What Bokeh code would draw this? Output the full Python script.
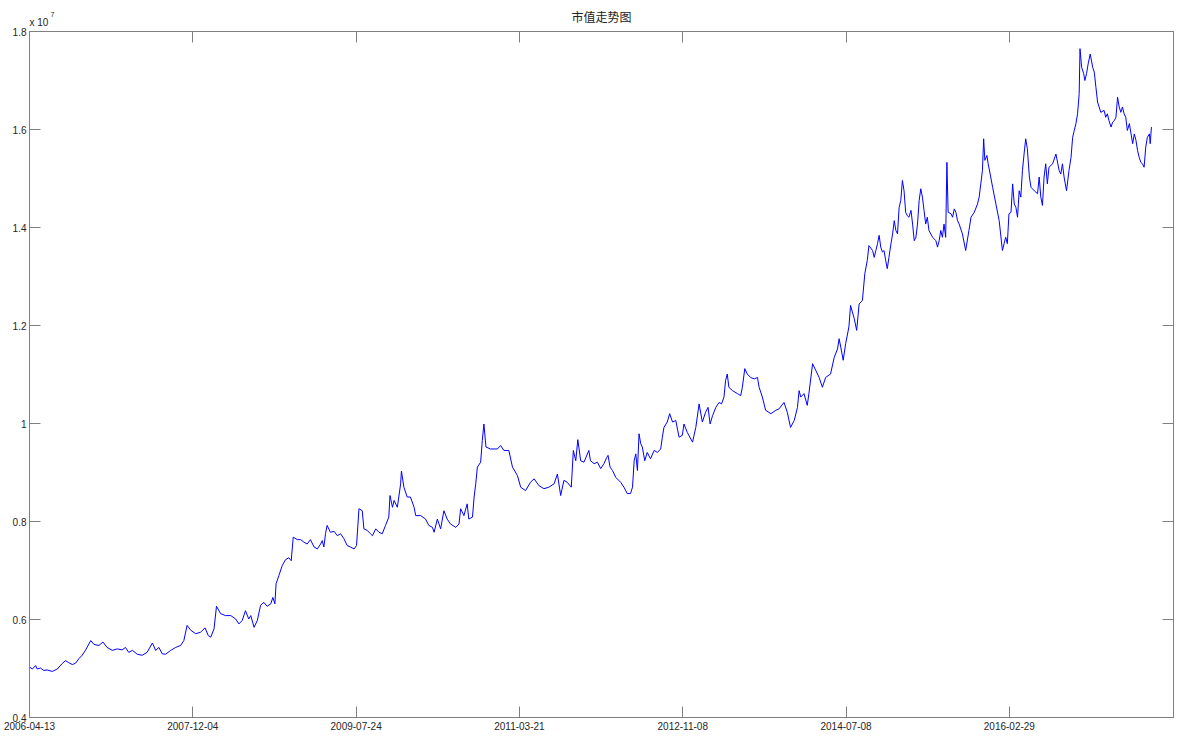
from bokeh.plotting import figure
from bokeh.models import FixedTicker, LinearAxis, Label, Range1d, ColumnDataSource
from bokeh.embed import file_html
from bokeh.resources import INLINE

# ---------------- data (trading-day index, market value in units of 1e7) ----------------
day_index_a = [0, 7, 15, 19, 27, 35, 43, 56, 68, 80,
               88, 96, 105, 113, 121, 129, 137, 150, 158, 170,
               180, 190, 203, 215, 227, 235, 243, 252, 264, 276,
               288, 301, 309, 317, 325, 333, 346, 358, 370, 378,
               386, 395, 407, 419, 430, 438, 444, 452, 458, 468,
               480, 493, 505, 513, 521, 529, 537, 542, 550, 558,
               566, 574, 582, 591, 596, 601, 604, 611, 619, 627,
               635, 641, 646, 656]
value_a = [0.503, 0.499, 0.506, 0.499, 0.501, 0.496, 0.497, 0.494, 0.499, 0.510,
           0.516, 0.512, 0.508, 0.511, 0.520, 0.527, 0.537, 0.557, 0.549, 0.547,
           0.554, 0.543, 0.537, 0.540, 0.538, 0.543, 0.533, 0.537, 0.529, 0.527,
           0.533, 0.552, 0.537, 0.543, 0.530, 0.529, 0.537, 0.543, 0.547, 0.557,
           0.588, 0.578, 0.571, 0.574, 0.583, 0.567, 0.564, 0.581, 0.627, 0.612,
           0.608, 0.608, 0.601, 0.591, 0.598, 0.618, 0.601, 0.608, 0.584, 0.598,
           0.629, 0.635, 0.627, 0.632, 0.645, 0.632, 0.673, 0.690, 0.710, 0.722,
           0.726, 0.720, 0.768, 0.763]

day_index_b = [664, 672, 680, 688, 697, 705, 713, 717, 721, 725,
               729, 737, 746, 754, 762, 770, 778, 786, 795, 801,
               807, 815, 819, 827, 835, 840, 848, 856, 864, 872,
               880, 883, 889, 893, 901, 909, 911, 917, 925, 933,
               942, 946, 958, 970, 978, 987, 991, 999, 1007, 1015,
               1023, 1031, 1044, 1052, 1056, 1064, 1072, 1076, 1085, 1089,
               1093, 1097, 1105, 1109, 1113, 1118, 1129, 1146, 1154, 1162,
               1174, 1183, 1195, 1203, 1215, 1227, 1236, 1248, 1260, 1272,
               1285, 1293, 1301, 1309, 1317, 1327, 1332, 1338, 1343, 1350,
               1358, 1370]
value_b = [0.763, 0.758, 0.754, 0.763, 0.748, 0.744, 0.754, 0.761, 0.748, 0.775,
           0.792, 0.778, 0.780, 0.771, 0.775, 0.765, 0.751, 0.748, 0.744, 0.751,
           0.826, 0.822, 0.785, 0.782, 0.775, 0.771, 0.785, 0.778, 0.775, 0.792,
           0.809, 0.853, 0.829, 0.843, 0.829, 0.877, 0.903, 0.870, 0.850, 0.850,
           0.829, 0.812, 0.812, 0.805, 0.792, 0.788, 0.778, 0.805, 0.785, 0.822,
           0.805, 0.795, 0.788, 0.795, 0.826, 0.812, 0.836, 0.805, 0.809, 0.850,
           0.877, 0.911, 0.921, 0.965, 0.999, 0.952, 0.948, 0.948, 0.955, 0.945,
           0.945, 0.911, 0.894, 0.870, 0.863, 0.880, 0.887, 0.873, 0.867, 0.870,
           0.877, 0.897, 0.853, 0.884, 0.880, 0.870, 0.945, 0.924, 0.967, 0.924,
           0.921, 0.945]

day_index_c = [1374, 1383, 1391, 1399, 1407, 1414, 1417, 1422, 1428, 1436,
               1448, 1456, 1464, 1472, 1477, 1481, 1485, 1489, 1493, 1497,
               1501, 1507, 1513, 1521, 1530, 1538, 1546, 1550, 1554, 1562,
               1568, 1575, 1583, 1591, 1599, 1603, 1611, 1624, 1632, 1640,
               1648, 1656, 1662, 1667, 1673, 1681, 1689, 1695, 1701, 1705,
               1709, 1713, 1722, 1734, 1742, 1746, 1752, 1758, 1766, 1775,
               1783, 1787, 1795, 1803, 1816, 1828, 1836, 1848, 1856, 1864,
               1873, 1881, 1885, 1889, 1897, 1905, 1909, 1918, 1926, 1934,
               1942, 1950, 1962, 1971, 1979, 1983, 1987, 1993, 1999, 2007,
               2011, 2020, 2026, 2032, 2040, 2046, 2052, 2056]
value_c = [0.924, 0.918, 0.921, 0.908, 0.918, 0.931, 0.935, 0.911, 0.904, 0.890,
           0.880, 0.870, 0.857, 0.857, 0.870, 0.924, 0.938, 0.904, 0.979, 0.959,
           0.952, 0.924, 0.941, 0.928, 0.945, 0.941, 0.948, 0.972, 0.992, 1.003,
           1.020, 1.003, 1.006, 0.972, 0.976, 0.999, 0.982, 0.962, 0.992, 1.040,
           1.003, 1.023, 1.033, 0.999, 1.016, 1.033, 1.043, 1.040, 1.054, 1.088,
           1.101, 1.074, 1.067, 1.061, 1.057, 1.074, 1.112, 1.101, 1.094, 1.091,
           1.094, 1.074, 1.054, 1.027, 1.020, 1.027, 1.030, 1.043, 1.023, 0.992,
           1.006, 1.033, 1.067, 1.054, 1.061, 1.037, 1.061, 1.122, 1.108, 1.094,
           1.074, 1.094, 1.101, 1.135, 1.152, 1.173, 1.156, 1.129, 1.163, 1.197,
           1.241, 1.214, 1.190, 1.244, 1.251, 1.306, 1.333, 1.363]

day_index_d = [2065, 2069, 2073, 2077, 2081, 2085, 2089, 2093, 2097, 2101,
               2105, 2110, 2114, 2118, 2122, 2126, 2130, 2134, 2138, 2142,
               2146, 2150, 2154, 2159, 2163, 2167, 2171, 2175, 2179, 2183,
               2187, 2191, 2195, 2199, 2203, 2212, 2220, 2224, 2228, 2232,
               2236, 2240, 2244, 2247, 2250, 2257, 2261, 2265, 2269, 2273,
               2277, 2285, 2293, 2301, 2306, 2314, 2322, 2326, 2330, 2334,
               2337, 2340, 2345, 2348, 2353, 2359, 2367, 2375, 2383, 2387,
               2391, 2395, 2399, 2404, 2408, 2412, 2416, 2420, 2424, 2428,
               2432, 2436, 2440, 2444, 2449, 2453, 2461, 2469, 2473, 2477,
               2481, 2485, 2489, 2493, 2497, 2506, 2514, 2522, 2526, 2530,
               2534, 2540, 2546, 2551, 2555, 2559, 2563, 2567, 2571, 2573,
               2577, 2582, 2585, 2589, 2593, 2598, 2604, 2608, 2612, 2616,
               2624, 2632, 2636, 2640, 2644, 2649, 2653, 2657, 2661, 2665,
               2669, 2673, 2677, 2681, 2685, 2689, 2694, 2698, 2702, 2706,
               2710, 2714, 2718, 2722, 2726, 2730, 2734, 2738, 2743, 2745,
               2748]
value_d = [1.353, 1.339, 1.353, 1.367, 1.384, 1.360, 1.350, 1.353, 1.333, 1.316,
           1.339, 1.367, 1.387, 1.414, 1.394, 1.387, 1.441, 1.455, 1.496, 1.475,
           1.431, 1.424, 1.421, 1.435, 1.407, 1.373, 1.380, 1.407, 1.455, 1.479,
           1.462, 1.435, 1.407, 1.421, 1.394, 1.380, 1.373, 1.360, 1.373, 1.394,
           1.380, 1.407, 1.380, 1.533, 1.431, 1.428, 1.421, 1.438, 1.431, 1.414,
           1.407, 1.387, 1.353, 1.394, 1.421, 1.431, 1.448, 1.462, 1.489, 1.516,
           1.581, 1.537, 1.547, 1.530, 1.509, 1.482, 1.448, 1.414, 1.353, 1.367,
           1.380, 1.367, 1.428, 1.431, 1.489, 1.448, 1.441, 1.421, 1.475, 1.462,
           1.516, 1.550, 1.581, 1.561, 1.503, 1.482, 1.475, 1.469, 1.503, 1.462,
           1.445, 1.503, 1.530, 1.489, 1.523, 1.530, 1.550, 1.516, 1.509, 1.530,
           1.503, 1.475, 1.516, 1.543, 1.584, 1.598, 1.612, 1.632, 1.673, 1.765,
           1.727, 1.714, 1.700, 1.714, 1.734, 1.754, 1.727, 1.717, 1.686, 1.656,
           1.635, 1.639, 1.625, 1.632, 1.618, 1.605, 1.615, 1.618, 1.625, 1.666,
           1.646, 1.635, 1.646, 1.632, 1.625, 1.598, 1.612, 1.591, 1.571, 1.591,
           1.578, 1.557, 1.543, 1.533, 1.530, 1.523, 1.564, 1.584, 1.591, 1.571,
           1.605]

tick_index = [0, 400, 800, 1200, 1600, 2000, 2400]
tick_dates = ["2006-04-13", "2007-12-04", "2009-07-24", "2011-03-21",
              "2012-11-08", "2014-07-08", "2016-02-29"]
y_ticks = [0.4, 0.6, 0.8, 1.0, 1.2, 1.4, 1.6, 1.8]
y_tick_labels = ["0.4", "0.6", "0.8", "1", "1.2", "1.4", "1.6", "1.8"]
title_text = "市值走势图"
exponent_base = "x 10"
exponent_power = "7"
x_last = 2802

day_index = day_index_a + day_index_b + day_index_c + day_index_d
market_value = value_a + value_b + value_c + value_d
assert len(day_index) == len(market_value)

# ---------------- figure ----------------
AX = "#808080"
LBL = "#262626"

p = figure(width=1179, height=741, output_backend="svg", toolbar_location=None,
           x_range=Range1d(0, x_last), y_range=Range1d(y_ticks[0], y_ticks[-1]),
           min_border_left=29, min_border_right=6, min_border_top=31,
           min_border_bottom=24, title=None)
p.background_fill_color = "white"
p.border_fill_color = "white"
p.outline_line_color = AX
p.xgrid.visible = False
p.ygrid.visible = False

src = ColumnDataSource(dict(x=day_index, y=market_value))
p.line("x", "y", source=src, line_color="#0000ff", line_width=1)


def style_axis(ax, ticks, overrides, show_labels=True):
    ax.ticker = FixedTicker(ticks=ticks)
    ax.major_label_overrides = overrides
    ax.axis_line_color = AX
    ax.major_tick_line_color = AX
    ax.minor_tick_line_color = None
    ax.major_tick_in = 11
    ax.major_tick_out = 0
    ax.major_label_text_font = "Liberation Sans"
    ax.major_label_text_color = LBL
    if show_labels:
        ax.major_label_text_font_size = "10px"
        ax.major_label_standoff = 4
    else:
        ax.major_label_text_font_size = "0px"
        ax.major_label_standoff = 0


x_over = {t: s for t, s in zip(tick_index, tick_dates)}
y_over = {t: s for t, s in zip(y_ticks, y_tick_labels)}

style_axis(p.xaxis[0], tick_index, x_over)
style_axis(p.yaxis[0], y_ticks, y_over)
p.yaxis[0].major_label_standoff = 3

top_axis = LinearAxis()
style_axis(top_axis, tick_index, {t: "" for t in tick_index}, show_labels=False)
p.add_layout(top_axis, "above")
right_axis = LinearAxis()
style_axis(right_axis, y_ticks, {t: "" for t in y_ticks}, show_labels=False)
p.add_layout(right_axis, "right")

# title (centred over the frame) and the "x 10^7" exponent marker, placed in
# side panels so that they are drawn outside the data frame
p.add_layout(Label(x=x_last / 2, y=y_ticks[-1], text=title_text,
                   text_font="Liberation Sans, Noto Sans CJK SC",
                   text_font_size="12px",
                   text_color="#222222", text_align="center",
                   text_baseline="alphabetic", y_offset=14), "above")
p.add_layout(Label(x=tick_index[0], y=y_ticks[-1], text=exponent_base,
                   text_font="Liberation Sans", text_font_size="10px",
                   text_color=LBL, text_baseline="alphabetic",
                   x_offset=0, y_offset=9), "above")
p.add_layout(Label(x=tick_index[0], y=y_ticks[-1], text=exponent_power,
                   text_font="Liberation Sans", text_font_size="7px",
                   text_color=LBL, text_baseline="alphabetic",
                   x_offset=21, y_offset=17), "right")

open("out.html", "w").write(file_html(p, INLINE))
